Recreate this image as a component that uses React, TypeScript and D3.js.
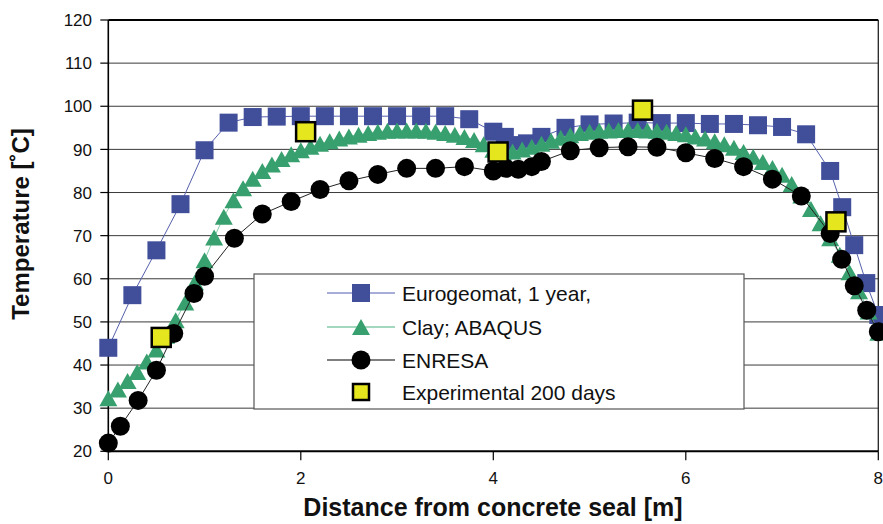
import React from 'react';
import * as d3 from 'd3';

const W = 883;
const H = 524;

// Eurogeomat, 1 year
const euroX = [0, 0.25, 0.5, 0.75, 1, 1.25, 1.5, 1.75, 2, 2.25, 2.5, 2.75, 3, 3.25, 3.5, 3.75, 4, 4.12, 4.22, 4.35, 4.5, 4.75, 5, 5.25, 5.5, 5.75, 6, 6.25, 6.5, 6.75, 7, 7.25, 7.5, 7.625, 7.75, 7.875, 8];
const euroT = [44.0, 56.2, 66.6, 77.3, 89.8, 96.2, 97.5, 97.6, 97.7, 97.7, 97.7, 97.7, 97.7, 97.7, 97.7, 97.0, 94.1, 92.9, 91.0, 91.4, 92.9, 95.0, 95.8, 96.0, 96.2, 96.1, 96.1, 95.9, 95.9, 95.6, 95.2, 93.5, 85.0, 76.6, 67.8, 59.0, 51.6];

// Clay; ABAQUS
const clayX = [0, 0.1, 0.2, 0.3, 0.4, 0.5, 0.6, 0.7, 0.8, 0.9, 1, 1.1, 1.2, 1.3, 1.4, 1.5, 1.6, 1.7, 1.8, 1.9, 2, 2.1, 2.2, 2.3, 2.4, 2.5, 2.6, 2.7, 2.8, 2.9, 3, 3.1, 3.2, 3.3, 3.4, 3.5, 3.6, 3.7, 3.8, 3.9, 4, 4.1, 4.2, 4.3, 4.4, 4.5, 4.6, 4.7, 4.8, 4.9, 5, 5.1, 5.2, 5.3, 5.4, 5.5, 5.6, 5.7, 5.8, 5.9, 6, 6.1, 6.2, 6.3, 6.4, 6.5, 6.6, 6.7, 6.8, 6.9, 7, 7.1, 7.2, 7.3, 7.4, 7.5, 7.6, 7.7, 7.8, 7.9, 8];
const clayT = [32.3, 34.3, 36.3, 38.4, 40.8, 43.6, 46.8, 50.4, 54.5, 59.2, 64.3, 69.6, 74.4, 78.2, 81.0, 83.2, 85.0, 86.5, 87.8, 88.9, 89.8, 90.6, 91.3, 91.9, 92.5, 93.0, 93.4, 93.8, 94.1, 94.3, 94.4, 94.4, 94.4, 94.3, 94.1, 93.8, 93.4, 92.9, 92.2, 91.2, 89.9, 89.3, 89.5, 90.0, 90.6, 91.3, 92.0, 92.7, 93.3, 93.8, 94.1, 94.3, 94.4, 94.5, 94.5, 94.5, 94.4, 94.3, 94.1, 93.8, 93.5, 93.0, 92.5, 91.9, 91.2, 90.4, 89.4, 88.3, 87.1, 85.7, 84.1, 82.0, 79.3, 76.2, 72.9, 69.4, 65.6, 61.5, 57.1, 52.4, 47.5];

// ENRESA
const enresaX = [0, 0.125, 0.31, 0.5, 0.68, 0.89, 1.0, 1.31, 1.6, 1.9, 2.2, 2.5, 2.8, 3.1, 3.4, 3.7, 4.0, 4.13, 4.26, 4.4, 4.5, 4.8, 5.1, 5.4, 5.7, 6.0, 6.3, 6.6, 6.9, 7.2, 7.5, 7.62, 7.75, 7.88, 8.0];
const enresaT = [21.9, 25.8, 31.8, 38.8, 47.3, 56.6, 60.6, 69.4, 75.0, 77.9, 80.7, 82.7, 84.2, 85.6, 85.6, 86.0, 85.0, 85.6, 85.4, 86.0, 87.2, 89.7, 90.4, 90.6, 90.5, 89.2, 87.9, 86.0, 83.1, 79.2, 70.5, 64.5, 58.4, 52.7, 47.7];

// Experimental 200 days
const expX = [0.55, 2.05, 4.05, 5.55, 7.56];
const expT = [46.4, 94.1, 89.4, 99.1, 73.2];

const yTicks = [20, 30, 40, 50, 60, 70, 80, 90, 100, 110, 120];
const xTicks = [0, 2, 4, 6, 8];

const legendLabels = ['Eurogeomat, 1 year,', 'Clay; ABAQUS', 'ENRESA', 'Experimental 200 days'];

const BLUE = '#414f9b';
const BLUE_LINE = '#5560ab';
const GREEN = '#37a06e';
const GREEN_LINE = '#86cba8';
const YELLOW = '#e6e61e';
const FONT = '"Liberation Sans", Arial, Helvetica, sans-serif';

const x = d3.scaleLinear().domain([0, 8]).range([108.3, 878.3]);
const y = d3.scaleLinear().domain([20, 120]).range([451.3, 20]);

const zip = (xs: number[], ys: number[]) => xs.map((v, i) => [v, ys[i]] as [number, number]);

const line = d3
  .line<[number, number]>()
  .x((d) => x(d[0]))
  .y((d) => y(d[1]));

const triPath = (cx: number, cy: number, w = 18, h = 16) =>
  `M${cx},${cy - h / 2}L${cx + w / 2},${cy + h / 2}L${cx - w / 2},${cy + h / 2}Z`;

const Square = ({ cx, cy, s, fill, stroke, sw }: any) => (
  <rect x={cx - s / 2} y={cy - s / 2} width={s} height={s} fill={fill} stroke={stroke} strokeWidth={sw} />
);

export default function App() {
  const euro = zip(euroX, euroT);
  const clay = zip(clayX, clayT);
  const enresa = zip(enresaX, enresaT);
  const exp = zip(expX, expT);

  const x0 = x(0);
  const x1 = x(8);
  const yTop = y(120);
  const yBot = y(20);

  const legX = 254;
  const legY = 274;
  const legW = 490;
  const legH = 135;
  const rows = [293, 327, 360, 392];
  const lx0 = 327;
  const lx1 = 395;
  const lm = 361;
  const tx = 402;

  return (
    <svg
      width={W}
      height={H}
      style={{ position: 'absolute', left: 0, top: 0, background: '#fff' }}
      fontFamily={FONT}
    >
      <rect x={0} y={0} width={W} height={H} fill="#fff" />

      {/* horizontal gridlines */}
      {yTicks
        .filter((t) => t > 20 && t < 120)
        .map((t) => (
          <line key={t} x1={x0} x2={x1} y1={y(t)} y2={y(t)} stroke="#3a3a3a" strokeWidth={1} />
        ))}

      {/* frame */}
      <line x1={x0} x2={x1} y1={yTop} y2={yTop} stroke="#000" strokeWidth={2} />
      <line x1={x1} x2={x1} y1={yTop} y2={yBot} stroke="#222" strokeWidth={1.3} />
      <line x1={x0} x2={x0} y1={yTop} y2={yBot} stroke="#000" strokeWidth={1.6} />
      <line x1={x0} x2={x1} y1={yBot} y2={yBot} stroke="#000" strokeWidth={2} />

      {/* y ticks */}
      {yTicks.map((t) => (
        <g key={t}>
          <line x1={x0 - 8} x2={x0} y1={y(t)} y2={y(t)} stroke="#000" strokeWidth={1.2} />
          <text x={92} y={y(t)} dy="0.36em" textAnchor="end" fontSize={17} fill="#111">
            {t}
          </text>
        </g>
      ))}

      {/* x ticks */}
      {xTicks.map((t) => (
        <g key={t}>
          <line x1={x(t)} x2={x(t)} y1={yBot} y2={yBot + 9} stroke="#000" strokeWidth={1.2} />
          <text x={x(t)} y={483.5} textAnchor="middle" fontSize={17} fill="#111">
            {t}
          </text>
        </g>
      ))}

      {/* axis titles */}
      <text
        x={493}
        y={516}
        textAnchor="middle"
        fontSize={25}
        fontWeight="bold"
        fill="#111"
      >
        Distance from concrete seal [m]
      </text>
      <text
        transform={`translate(29,224) rotate(-90)`}
        textAnchor="middle"
        fontSize={24}
        fontWeight="bold"
        fill="#111"
      >
        Temperature [˚C]
      </text>

      {/* Eurogeomat */}
      <path d={line(euro) || ''} fill="none" stroke={BLUE_LINE} strokeWidth={1} />
      {euro.map((d, i) => (
        <Square key={i} cx={x(d[0])} cy={y(d[1])} s={18} fill={BLUE} />
      ))}

      {/* Clay; ABAQUS */}
      <path d={line(clay) || ''} fill="none" stroke={GREEN_LINE} strokeWidth={1} />
      {clay.map((d, i) => (
        <path key={i} d={triPath(x(d[0]), y(d[1]))} fill={GREEN} />
      ))}

      {/* ENRESA */}
      <path d={line(enresa) || ''} fill="none" stroke="#222" strokeWidth={1} />
      {enresa.map((d, i) => (
        <circle key={i} cx={x(d[0])} cy={y(d[1])} r={9.5} fill="#000" />
      ))}

      {/* Experimental */}
      {exp.map((d, i) => (
        <Square key={i} cx={x(d[0])} cy={y(d[1])} s={19} fill={YELLOW} stroke="#000" sw={2.5} />
      ))}

      {/* legend */}
      <rect x={legX} y={legY} width={legW} height={legH} fill="#fff" stroke="#555" strokeWidth={1.2} />
      <line x1={lx0} x2={lx1} y1={rows[0]} y2={rows[0]} stroke="#8b91cb" strokeWidth={1.3} />
      <Square cx={lm} cy={rows[0]} s={18} fill={BLUE} />
      <line x1={lx0} x2={lx1} y1={rows[1]} y2={rows[1]} stroke={GREEN_LINE} strokeWidth={1.3} />
      <path d={triPath(lm, rows[1])} fill={GREEN} />
      <line x1={lx0} x2={lx1} y1={rows[2]} y2={rows[2]} stroke="#555" strokeWidth={1.3} />
      <circle cx={lm} cy={rows[2]} r={9.5} fill="#000" />
      <Square cx={lm} cy={rows[3]} s={16} fill={YELLOW} stroke="#000" sw={2.5} />
      {legendLabels.map((t, i) => (
        <text key={t} x={tx} y={rows[i]} dy="0.36em" fontSize={21} fill="#111">
          {t}
        </text>
      ))}
    </svg>
  );
}
